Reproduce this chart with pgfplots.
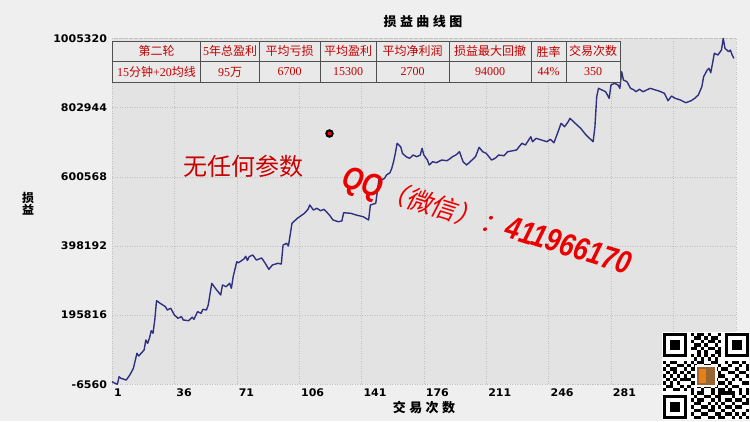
\documentclass[border=0pt]{standalone}
\usepackage{fontspec}
\usepackage{pgfplots}
\pgfplotsset{compat=1.18}
\setmainfont{Liberation Serif}
\newfontfamily\tickfont{DejaVu Sans}[FakeStretch=1.05]
\newfontfamily\cjk{Noto Sans CJK SC}
\newfontfamily\cjkit{Noto Sans CJK SC}[FakeSlant=0.18]
\newfontfamily\qqfont{Liberation Sans}[FakeStretch=0.82]
\definecolor{pagebg}{RGB}{239,239,239}
\definecolor{plotbg}{RGB}{227,227,227}
\definecolor{gridcol}{RGB}{192,192,192}
\definecolor{linecol}{RGB}{48,48,130}
\definecolor{tabred}{RGB}{195,0,0}
\definecolor{tabbg}{RGB}{233,233,233}
\definecolor{tabline}{RGB}{80,80,80}
\definecolor{bigred}{RGB}{200,0,0}
\definecolor{qqred}{RGB}{235,0,0}
\newcommand\gsp{\hspace{3.5pt}}
\begin{document}
\begin{tikzpicture}
\useasboundingbox (0pt,0pt) rectangle (750pt,421pt);
\fill[pagebg] (0pt,0pt) rectangle (750pt,421pt);
\begin{axis}[
  at={(112pt,36.7pt)}, anchor=south west,
  scale only axis, width=623.7pt, height=345.8pt,
  xmin=1, xmax=351, ymin=-6560, ymax=1005320,
  clip=false,
  axis background/.style={fill=plotbg},
  axis line style={draw=gridcol, dash pattern=on 1pt off 1.5pt},
  grid=major, major grid style={draw=gridcol, dash pattern=on 1pt off 1.5pt},
  major tick length=0pt,
  scaled y ticks=false, scaled x ticks=false,
  xtick={1,36,71,106,141,176,211,246,281,316},
  xticklabels={1,36,71,106,141,176,211,246,281,316},
  ytick={-6560,195816,398192,600568,802944,1005320},
  yticklabels={-6560,195816,398192,600568,802944,1005320},
  ticklabel style={font=\tickfont\bfseries\fontsize{10.5}{12}\selectfont, text=black},
  xticklabel style={anchor=north west, xshift=-1.5pt, yshift=-1pt},
  yticklabel style={anchor=east, xshift=-1.5pt},
]
\addplot[linecol, line width=1.4pt, line join=round] coordinates {
(1,1600) (2,-1900) (4,-6560) (5,15700) (6,11000) (9,6000) (11,20700) (13,40300)
(15,84200) (16,76300) (19,93800) (20,123100) (21,113400) (22,128100) (23,150300)
(24,142700) (25,181600) (26,238100) (28,230500) (31,220600) (32,210900) (34,215900)
(35,205900) (36,196300) (38,186600) (40,191300) (41,181600) (44,179600) (46,189500)
(47,183700) (49,205900) (51,201200) (52,212900) (54,210900) (55,225500) (57,289000)
(59,274400) (62,254800) (63,284100) (65,279100) (67,289000) (68,274400) (69,308300)
(71,352200) (72,349200) (75,360000) (76,368000) (77,356000) (78,367000) (80,371800)
(82,357100) (85,363000) (87,347500) (89,329900) (91,342500) (94,347500) (96,345400)
(97,401000) (99,406000) (100,398100) (102,464500) (105,479200) (109,493800)
(111,505500) (112,518100) (114,503400) (116,508400) (118,501400) (120,505500)
(123,488800) (125,474200) (128,469200) (130,471300) (131,495500) (135,493800)
(138,488800) (142,483800) (145,474200) (146,518100) (149,523100) (150,562000)
(151,600900) (152,591200) (154,596200) (155,605900) (157,612600) (158,625500)
(159,644800) (160,669400) (161,698600) (163,688700) (164,669400) (166,659400)
(168,654700) (170,664400) (172,659400) (174,664400) (175,684000) (176,664400)
(178,649700) (179,635100) (181,644800) (183,641800) (186,649700) (189,647700)
(191,654700) (192,659400) (194,664400) (196,674000) (198,644800) (200,635100)
(202,644800) (205,659400) (207,686900) (209,674000) (211,669400) (214,649700)
(216,654700) (218,664400) (221,662300) (223,674000) (226,677000) (228,679000)
(231,698600) (233,693600) (236,717900) (237,703300) (239,713200) (242,708300)
(245,703300) (247,710300) (249,700400) (251,727900) (252,742500) (253,757100)
(255,747200) (257,761800) (258,771800) (260,761800) (264,742500) (267,722900)
(271,703300) (272,747200) (273,834900) (274,859500) (276,854600) (278,849600)
(280,830300) (281,869200) (283,874200) (285,869200) (286,859500) (287,908100)
(288,883800) (290,878900) (292,859500) (294,854600) (295,849600) (297,856600)
(299,849600) (301,854600) (303,859500) (306,854600) (308,851600) (311,844900)
(313,823300) (315,837000) (317,830300) (320,825300) (323,817400) (326,823300)
(328,830300) (330,839900) (332,864200) (333,893500) (335,913100) (336,918100)
(337,905200) (338,932700) (339,962000) (341,957000) (343,971600) (344,1005320)
(345,976600) (347,966600) (348,971600) (349,957000) (350,947300)
};
\end{axis}
% titles
\node[font=\cjk\bfseries\fontsize{13}{14}\selectfont] at (423pt,399pt) {损\gsp 益\gsp 曲\gsp 线\gsp 图};
\node[font=\cjk\bfseries\fontsize{13}{14}\selectfont] at (424pt,13pt) {交\gsp 易\gsp 次\gsp 数};
\node[font=\cjk\bfseries\fontsize{12}{13}\selectfont, align=center] at (28pt,217pt) {损\\[-1pt]益};
% table
\fill[tabbg] (112.3pt,338.7pt) rectangle (620pt,380pt);
\draw[tabline, line width=0.8pt] (112.3pt,338.7pt) rectangle (620pt,380pt);
\draw[tabline, line width=0.8pt] (112.3pt,359.3pt) -- (620pt,359.3pt);
\foreach \xx in {200.7,259.3,320,376,449,531,566} {
  \draw[tabline, line width=0.8pt] (\xx pt,338.7pt) -- (\xx pt,380pt);
}
\begin{scope}[every node/.style={text=tabred, font=\fontsize{12}{13}\selectfont, inner sep=0pt}]
\node at (156.5pt,369.6pt) {\cjk 第二轮};
\node at (230pt,369.6pt) {5{\cjk 年总盈利}};
\node at (289.6pt,369.6pt) {\cjk 平均亏损};
\node at (348pt,369.6pt) {\cjk 平均盈利};
\node at (412.5pt,369.6pt) {\cjk 平均净利润};
\node at (490pt,369.6pt) {\cjk 损益最大回撤};
\node at (548.5pt,369.6pt) {\cjk 胜率};
\node at (593pt,369.6pt) {\cjk 交易次数};
\node at (156.5pt,349pt) {15{\cjk 分钟}+20{\cjk 均线}};
\node at (230pt,349pt) {95{\cjk 万}};
\node at (289.6pt,349pt) {6700};
\node at (348pt,349pt) {15300};
\node at (412.5pt,349pt) {2700};
\node at (490pt,349pt) {94000};
\node at (548.5pt,349pt) {44\%};
\node at (593pt,349pt) {350};
\end{scope}
% overlays
\fill[black] (329.5pt,287.5pt) circle (4.3pt);
\fill[red] (329.5pt,287.5pt) circle (2pt);
\node[text=bigred, font=\cjk\fontsize{24}{26}\selectfont] at (243pt,255pt) {无任何参数};
\node[text=qqred, rotate=-17] at (486pt,198pt) {{\qqfont\bfseries\itshape\fontsize{32}{34}\selectfont QQ}{\cjkit\fontsize{26}{28}\selectfont （微信）：}{\qqfont\bfseries\itshape\fontsize{32}{34}\selectfont 411966170}};
% QR code
\fill[white] (662pt,1pt) rectangle (749pt,89pt);
\begin{scope}[shift={(663pt,88pt)}, x=3.44pt, y=-3.44pt]
\foreach \ox/\oy in {0/0,18/0,0/18} {
  \fill[black] (\ox,\oy) rectangle ++(7,7);
  \fill[white] (\ox+1,\oy+1) rectangle ++(5,5);
  \fill[black] (\ox+2,\oy+2) rectangle ++(3,3);
}
\foreach \r/\cs in {0/{8,10,11,13,16},1/{9,10,12,14,15},2/{8,11,13,14,16},3/{9,10,12,15},
 4/{8,9,11,13,14,16},5/{10,12,15,16},6/{8,10,12,14,16},7/{9,11,13,15},
 8/{0,2,3,6,8,10,11,14,15,18,20,21,23},9/{1,4,5,7,9,12,13,16,19,22,24},
 10/{0,2,3,6,8,9,15,17,18,21,24},11/{1,3,5,7,10,16,19,20,22,23},
 12/{0,2,4,6,8,9,16,17,21,24},13/{1,3,5,6,7,10,15,18,20,22},
 14/{0,2,4,8,9,16,17,19,23,24},15/{1,2,5,7,10,12,13,15,18,20,21},
 16/{0,3,4,6,8,11,14,16,17,19,22,24},17/{8,10,11,14,16,17,18,19,20,22,24},
 18/{9,12,13,15,16,20,23},19/{8,10,11,14,16,18,19,21,22,24},
 20/{9,10,13,15,17,20,23,24},21/{8,11,12,14,16,18,19,21,22},
 22/{9,10,13,14,17,20,24},23/{8,11,12,15,16,18,19,21,23},
 24/{9,10,13,14,16,17,20,22,24}} {
  \foreach \c in \cs { \fill[black] (\c,\r) rectangle ++(1,1); }
}
\fill[white] (9.4,9.4) rectangle (15.6,15.6);
\fill[brown!80!black] (9.8,9.8) rectangle (15.2,15.2);
\fill[orange!60!brown] (10.6,10.4) rectangle (12.4,14.6);
\end{scope}
\end{tikzpicture}
\end{document}
